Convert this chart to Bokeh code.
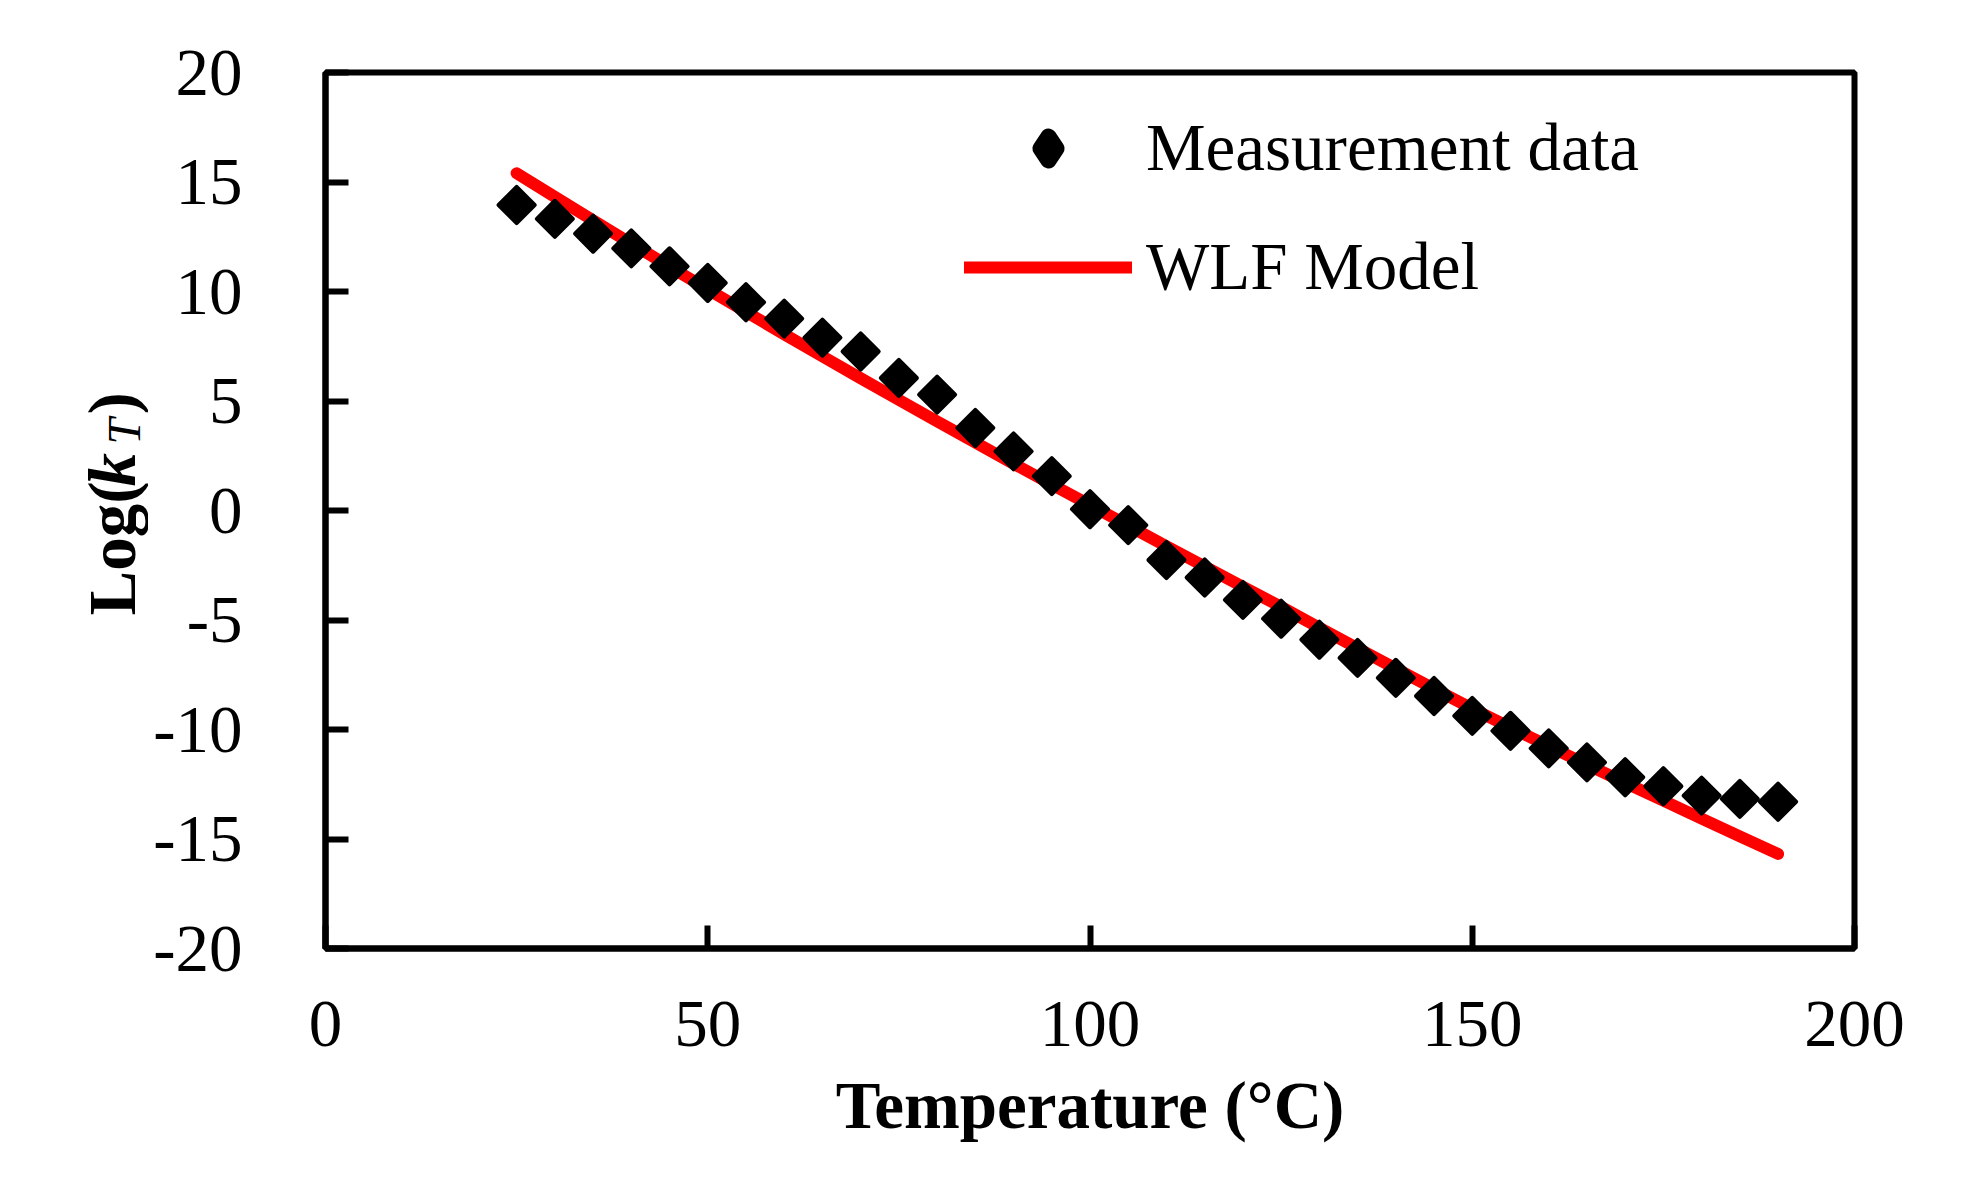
import math

from bokeh.plotting import figure
from bokeh.layouts import row
from bokeh.models import (ColumnDataSource, Range1d, FixedTicker, Legend, Label,
                          PrintfTickFormatter)
from bokeh.embed import file_html
from bokeh.resources import INLINE

# Temperatures (degC) of the measurements
temperature = [25, 30, 35, 40, 45, 50, 55, 60, 65, 70, 75, 80, 85, 90, 95, 100, 105,
               110, 115, 120, 125, 130, 135, 140, 145, 150, 155, 160, 165, 170, 175,
               180, 185, 190]

# Log(kT) read from the measurement points
log_kt_measured = [13.95, 13.32, 12.64, 11.97, 11.15, 10.39, 9.51, 8.76, 7.89, 7.26,
                   6.05, 5.29, 3.77, 2.70, 1.57, 0.06, -0.67, -2.26, -3.06, -4.08,
                   -4.94, -5.90, -6.73, -7.64, -8.47, -9.38, -10.06, -10.86, -11.50,
                   -12.18, -12.59, -13.02, -13.17, -13.30]

# Log(kT) of the WLF model curve
log_kt_wlf = [15.40, 14.32, 13.25, 12.19, 11.14, 10.10, 9.07, 8.05, 7.04, 6.04, 5.05,
              4.07, 3.10, 2.14, 1.19, 0.25, -0.69, -1.63, -2.56, -3.48, -4.40, -5.35,
              -6.29, -7.22, -8.14, -9.05, -9.91, -10.76, -11.60, -12.43, -13.25,
              -14.07, -14.88, -15.68]

x_ticks = [0, 50, 100, 150, 200]
y_ticks = [-20, -15, -10, -5, 0, 5, 10, 15, 20]

FONT = "Liberation Serif"
HEIGHT = 1184
LABEL_W = 148          # narrow strip on the left that carries the y axis title
BORDER_TOP = 72
BORDER_BOTTOM = 236
FRAME_H = HEIGHT - BORDER_TOP - BORDER_BOTTOM

source = ColumnDataSource(data=dict(
    t=temperature,
    measured=log_kt_measured,
    wlf=log_kt_wlf,
))

# ---- strip with the rotated y title "Log(kT)" (k italic, T italic subscript) ----
# its frame has the same top/bottom as the main plot, one data unit = one pixel
ylab = figure(width=LABEL_W, height=HEIGHT, output_backend="svg", toolbar_location=None,
              x_range=Range1d(0, LABEL_W), y_range=Range1d(0, FRAME_H),
              x_axis_type=None, y_axis_type=None,
              min_border_left=0, min_border_right=0,
              min_border_top=BORDER_TOP, min_border_bottom=BORDER_BOTTOM)
ylab.grid.visible = False
ylab.outline_line_color = None
ylab.background_fill_color = "white"
ylab.border_fill_color = "white"

# (text, baseline x, start y above frame bottom, size, style)
y_label_parts = [
    ("Log(", 111.7, 333, "67px", "bold"),
    ("k", 111.7, 462, "67px", "bold italic"),
    ("T", 123, 504, "47px", "italic"),
    (")", 111.7, 534, "67px", "bold"),
]
for txt, lx, ly, size, style in y_label_parts:
    ylab.add_layout(Label(x=lx, y=ly, text=txt, angle=math.pi / 2,
                          text_font=FONT, text_font_size=size,
                          text_font_style=style, text_color="black",
                          text_align="left", text_baseline="alphabetic"))

# ---- main plot ----
p = figure(width=1959 - LABEL_W, height=HEIGHT, output_backend="svg",
           toolbar_location=None,
           x_range=Range1d(0, 200), y_range=Range1d(-20, 20),
           min_border_left=325 - LABEL_W, min_border_right=105,
           min_border_top=BORDER_TOP, min_border_bottom=BORDER_BOTTOM)

p.background_fill_color = "white"
p.border_fill_color = "white"
p.grid.visible = False
p.outline_line_color = "black"
p.outline_line_width = 6

# WLF model line, measurement diamonds on top
wlf_line = p.line('t', 'wlf', source=source, line_color="#FF0000", line_width=12,
                  line_cap="round", line_join="round")
meas = p.scatter('t', 'measured', source=source, marker="square", size=25.5,
                 angle=math.pi / 4, fill_color="black", line_color="black",
                 line_width=4, line_join="round")

# the legend does not rotate markers, so its key uses a diamond with a rounded outline
meas_key = p.scatter(x=[float("nan")], y=[float("nan")], marker="diamond", size=24,
                     fill_color="black", line_color="black", line_width=16,
                     line_join="round")

# Axes: ticks pointing inside, Times-like font
for ax in (p.xaxis[0], p.yaxis[0]):
    ax.axis_line_color = "black"
    ax.axis_line_width = 6
    ax.major_tick_line_color = "black"
    ax.major_tick_line_width = 6
    ax.major_tick_in = 23
    ax.major_tick_out = 0
    ax.minor_tick_line_color = None
    ax.major_label_text_font = FONT
    ax.major_label_text_font_size = "67px"
    ax.major_label_text_color = "black"
    ax.formatter = PrintfTickFormatter(format="%d")

p.xaxis.ticker = FixedTicker(ticks=x_ticks)
p.yaxis.ticker = FixedTicker(ticks=y_ticks)
p.xaxis.major_label_standoff = 53
p.yaxis.major_label_standoff = 83

p.xaxis.axis_label = "Temperature (°C)"
p.xaxis.axis_label_text_font = FONT
p.xaxis.axis_label_text_font_size = "67px"
p.xaxis.axis_label_text_font_style = "bold"
p.xaxis.axis_label_text_color = "black"
p.xaxis.axis_label_standoff = 19

legend = Legend(items=[("Measurement data", [meas_key]), ("WLF Model", [wlf_line])],
                location=(639, 643))
legend.glyph_width = 168
legend.glyph_height = 60
legend.label_standoff = 14
legend.spacing = 42
legend.padding = 0
legend.margin = 0
legend.border_line_color = None
legend.background_fill_alpha = 0
legend.label_text_font = FONT
legend.label_text_font_size = "67px"
legend.label_text_color = "black"
p.add_layout(legend)

layout = row(ylab, p)

open("out.html", "w").write(file_html(layout, INLINE))
